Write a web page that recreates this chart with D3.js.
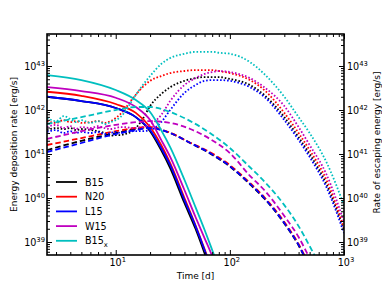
<!DOCTYPE html>
<html>
<head>
<meta charset="utf-8">
<script src="https://cdn.jsdelivr.net/npm/d3@7"></script>
<style>
body { margin: 0; background: #fff; }
text { font-family: "DejaVu Sans", sans-serif; fill: #000; }
</style>
</head>
<body>
<svg id="chart" width="382" height="287"></svg>
<script>
// models, in the order they are plotted / listed in the legend
const models = ["B15", "N20", "L15", "W15", "B15x"];
const colors = ["#000000", "#ff0000", "#0000ff", "#bf00bf", "#00bfbf"];

// energy deposition, solid lines (left axis) [erg/s]
const tSolid = [2.5, 5, 10, 15, 20, 25, 30, 40, 50, 60, 70, 80];
const solidB15  = [2.0e42, 1.6e42, 1.11e42, 6.9e41, 3.3e41, 1.23e41, 4.8e40, 7.7e39, 2.0e39, 5.6e38, 1.78e38, 6e37];
const solidN20  = [2.6e42, 2.1e42, 1.37e42, 8.6e41, 4.1e41, 1.6e41, 6.2e40, 1.0e40, 2.4e39, 6.9e38, 2.3e38, 8e37];
const solidL15  = [2.0e42, 1.6e42, 1.11e42, 6.9e41, 3.5e41, 1.37e41, 5.6e40, 9.0e39, 2.3e39, 6.6e38, 2.1e38, 7e37];
const solidW15  = [3.3e42, 2.7e42, 1.9e42, 1.17e42, 5.9e41, 2.1e41, 8.6e40, 1.52e40, 3.7e39, 1.23e39, 4.8e38, 1.78e38];
const solidB15x = [6.2e42, 4.8e42, 2.85e42, 1.69e42, 9.0e41, 3.5e41, 1.44e41, 2.6e40, 6.2e39, 1.9e39, 6.6e38, 2.6e38];

// energy deposition, dashed lines (left axis) [erg/s]
const tDash = [2.5, 5, 10, 15, 20, 30, 45, 67, 100, 150, 200, 300, 400, 500, 600];
const dashB15  = [1.23e41, 2.0e41, 3.0e41, 3.7e41, 3.9e41, 3.0e41, 1.78e41, 1.03e41, 5.2e40, 2.05e40, 9.8e39, 2.65e39, 8.4e38, 2.6e38, 1e38];
const dashN20  = [1.6e41, 2.3e41, 3.3e41, 3.9e41, 4.1e41, 3.05e41, 1.8e41, 1.1e41, 5.6e40, 2.2e40, 1.05e40, 2.85e39, 9e38, 2.9e38, 1.1e38];
const dashL15  = [1.11e41, 1.78e41, 2.85e41, 3.5e41, 3.9e41, 3.0e41, 1.78e41, 1.05e41, 5.3e40, 2.1e40, 1.0e40, 2.7e39, 8.6e38, 2.7e38, 1e38];
const dashW15  = [2.2e41, 3.3e41, 4.6e41, 5.3e41, 5.6e41, 5.1e41, 3.7e41, 2.2e41, 1.05e41, 3.2e40, 1.52e40, 3.9e39, 1.3e39, 4.3e38, 1.78e38];
const dashB15x = [4.8e41, 6.9e41, 1.0e42, 1.17e42, 1.17e42, 9.0e41, 5.6e41, 3.0e41, 1.37e41, 5.0e40, 2.4e40, 6.9e39, 2.3e39, 8.1e38, 3.3e38];

// escaping energy, dotted lines (right axis) [erg/s]
const tEsc = [2.5, 3, 3.5, 4, 4.5, 5, 6, 7, 8, 9, 10, 11, 12, 14, 17, 20, 25, 30, 40, 50, 60, 70, 80, 100, 150, 200, 300, 400, 500, 700, 1000];
const escB15  = [3.5e41, 3.9e41, 3.7e41, 3.9e41, 3.5e41, 3.7e41, 3.5e41, 3.3e41, 3.0e41, 2.6e41, 2.7e41, 2.7e41, 2.85e41, 3.3e41, 5.9e41, 1.23e42, 2.3e42, 3.3e42, 4.6e42, 5.3e42, 5.6e42, 5.6e42, 5.6e42, 5.1e42, 3.7e42, 2.2e42, 6.9e41, 2.4e41, 1.0e41, 2.1e40, 1.9e39];
const escN20  = [5.6e41, 5.1e41, 5.9e41, 5.3e41, 5.6e41, 5.1e41, 5.3e41, 5.6e41, 5.1e41, 5.6e41, 6.6e41, 8.1e41, 1.05e42, 1.78e42, 3.2e42, 4.6e42, 5.9e42, 6.9e42, 7.7e42, 8.1e42, 8.1e42, 8.1e42, 7.7e42, 6.9e42, 4.8e42, 2.85e42, 8.6e41, 3.0e41, 1.23e41, 2.6e40, 2.1e39];
const escL15  = [3.2e41, 3.5e41, 3.0e41, 3.3e41, 3.0e41, 3.2e41, 3.0e41, 3.2e41, 2.85e41, 3.0e41, 3.2e41, 3.0e41, 3.2e41, 3.3e41, 3.3e41, 3.5e41, 5.3e41, 1.0e42, 2.45e42, 3.7e42, 4.6e42, 4.8e42, 4.8e42, 4.6e42, 3.3e42, 2.0e42, 5.9e41, 2.1e41, 8.6e40, 1.78e40, 1.6e39];
const escW15  = [4.1e41, 4.6e41, 3.9e41, 4.3e41, 3.7e41, 4.1e41, 3.9e41, 4.3e41, 3.9e41, 3.7e41, 3.9e41, 4.1e41, 4.1e41, 3.9e41, 4.1e41, 4.6e41, 7.7e41, 1.6e42, 3.7e42, 5.3e42, 6.6e42, 7.3e42, 7.7e42, 7.3e42, 5.3e42, 3.3e42, 1.23e42, 4.1e41, 1.6e41, 3.5e40, 2.85e39];
const escB15x = [6.6e41, 5.6e41, 7.3e41, 6.2e41, 5.3e41, 5.9e41, 5.1e41, 5.6e41, 4.8e41, 5.3e41, 5.9e41, 6.9e41, 9.0e41, 1.69e42, 3.5e42, 5.9e42, 1.11e43, 1.52e43, 1.9e43, 2.1e43, 2.1e43, 2.1e43, 2.0e43, 1.9e43, 1.23e43, 6.6e42, 2.0e42, 6.9e41, 3.0e41, 6.6e40, 6.9e39];

// tick labels
const xMajor = [10, 100, 1000];
const yMajor = [1e39, 1e40, 1e41, 1e42, 1e43];

const solid = [solidB15, solidN20, solidL15, solidW15, solidB15x];
const dashed = [dashB15, dashN20, dashL15, dashW15, dashB15x];
const dotted = [escB15, escN20, escL15, escW15, escB15x];

var mLeft = 47, mRight = 344, mTop = 34, mBottom = 255;

var svg = d3.select("#chart");

var x = d3.scaleLog().domain([2.5, 1000]).range([mLeft, mRight]);
var y = d3.scaleLog().domain([5.07e38, 5.34e43]).range([mBottom, mTop]);

svg.append("clipPath").attr("id", "clip")
  .append("rect").attr("x", mLeft).attr("y", mTop)
  .attr("width", mRight - mLeft).attr("height", mBottom - mTop);

var plot = svg.append("g").attr("clip-path", "url(#clip)");

function zip(t, v) { return t.map(function(d, i) { return [d, v[i]]; }); }

var line = d3.line()
  .x(function(d) { return x(d[0]); })
  .y(function(d) { return y(d[1]); })
  .curve(d3.curveMonotoneX);

for (var i = 0; i < models.length; i++) {
  plot.append("path").attr("d", line(zip(tSolid, solid[i])))
    .attr("fill", "none").attr("stroke", colors[i]).attr("stroke-width", 1.8);
  plot.append("path").attr("d", line(zip(tDash, dashed[i])))
    .attr("fill", "none").attr("stroke", colors[i]).attr("stroke-width", 1.8)
    .attr("stroke-dasharray", "5.5,3");
  plot.append("path").attr("d", line(zip(tEsc, dotted[i])))
    .attr("fill", "none").attr("stroke", colors[i]).attr("stroke-width", 1.8)
    .attr("stroke-dasharray", "1.6,1.9");
}

// minor tick values
var xMinor = [], yMinor = [];
[1, 10, 100].forEach(function(b) {
  for (var k = 2; k < 10; k++) { if (b * k >= 2.5 && b * k < 1000) xMinor.push(b * k); }
});
[1e38, 1e39, 1e40, 1e41, 1e42, 1e43].forEach(function(b) {
  for (var k = 2; k < 10; k++) { if (b * k > 5.07e38 && b * k < 5.34e43) yMinor.push(b * k); }
});

function ticks(axis, vals, size, tr) {
  var g = svg.append("g").attr("transform", tr)
    .call(axis.tickValues(vals).tickSize(size).tickFormat(""));
  g.select(".domain").remove();
  g.selectAll("line").attr("stroke", "#000").attr("stroke-width", 1);
}
ticks(d3.axisBottom(x), xMajor, -5, "translate(0," + mBottom + ")");
ticks(d3.axisBottom(x), xMinor, -3, "translate(0," + mBottom + ")");
ticks(d3.axisTop(x), xMajor, -5, "translate(0," + mTop + ")");
ticks(d3.axisTop(x), xMinor, -3, "translate(0," + mTop + ")");
ticks(d3.axisLeft(y), yMajor, -5, "translate(" + mLeft + ",0)");
ticks(d3.axisLeft(y), yMinor, -3, "translate(" + mLeft + ",0)");
ticks(d3.axisRight(y), yMajor, -5, "translate(" + mRight + ",0)");
ticks(d3.axisRight(y), yMinor, -3, "translate(" + mRight + ",0)");

// frame
svg.append("rect").attr("x", mLeft).attr("y", mTop)
  .attr("width", mRight - mLeft).attr("height", mBottom - mTop)
  .attr("fill", "none").attr("stroke", "#000").attr("stroke-width", 1.6);

// tick labels as 10^n
function pow10(sel, v) {
  var e = Math.round(Math.log10(v));
  sel.append("tspan").text("10");
  sel.append("tspan").attr("dy", -4).attr("font-size", 6.8).text(e);
}
xMajor.forEach(function(v) {
  var t = svg.append("text").attr("x", x(v) + 2).attr("y", 266)
    .attr("text-anchor", "middle").attr("font-size", 9.6);
  pow10(t, v);
});
yMajor.forEach(function(v) {
  var t = svg.append("text").attr("x", mLeft - 2).attr("y", y(v) + 4)
    .attr("text-anchor", "end").attr("font-size", 9.6);
  pow10(t, v);
  var r = svg.append("text").attr("x", mRight + 3).attr("y", y(v) + 4)
    .attr("text-anchor", "start").attr("font-size", 9.6);
  pow10(r, v);
});

// axis labels
svg.append("text").attr("x", (mLeft + mRight) / 2).attr("y", 279)
  .attr("text-anchor", "middle").attr("font-size", 9).text("Time [d]");
svg.append("text").attr("transform", "translate(17," + (mTop + mBottom) / 2 + ") rotate(-90)")
  .attr("text-anchor", "middle").attr("font-size", 9).text("Energy deposition rate [erg/s]");
svg.append("text").attr("transform", "translate(380," + ((mTop + mBottom) / 2 - 2) + ") rotate(-90)")
  .attr("text-anchor", "middle").attr("font-size", 9).text("Rate of escaping energy [erg/s]");

// legend
var legend = svg.selectAll(".legend").data(models).enter().append("g")
  .attr("class", "legend")
  .attr("transform", function(d, i) { return "translate(56," + (182 + i * 14.7) + ")"; });
legend.append("line").attr("x1", 0).attr("x2", 21).attr("y1", 0).attr("y2", 0)
  .attr("stroke", function(d, i) { return colors[i]; }).attr("stroke-width", 1.8);
legend.append("text").attr("x", 29).attr("y", 3.6).attr("font-size", 9.6)
  .each(function(d) {
    var t = d3.select(this);
    if (d == "B15x") {
      t.append("tspan").text("B15");
      t.append("tspan").attr("dy", 2.5).attr("font-size", 6.8).text("x");
    } else {
      t.text(d);
    }
  });
</script>
</body>
</html>
